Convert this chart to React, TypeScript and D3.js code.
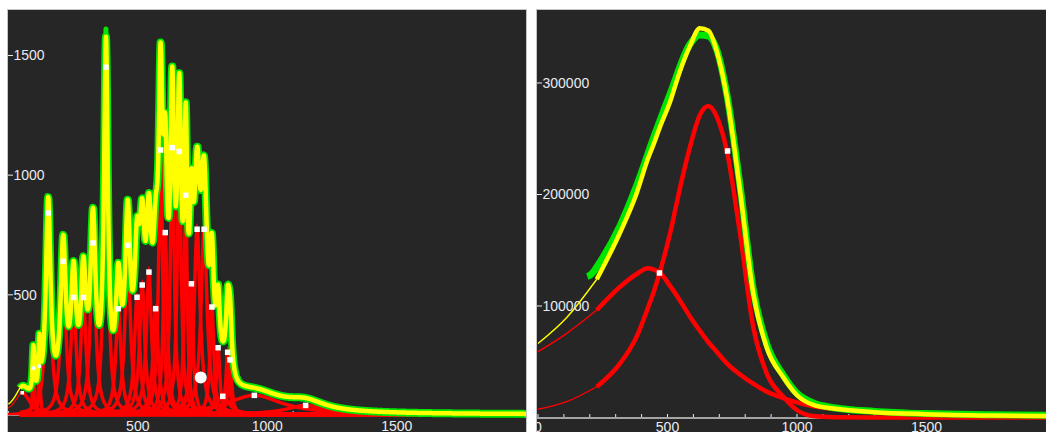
import * as d3 from "d3";

// ---- left panel: fitted peak components (centre, height, half width) ----
const leftCenters = [54, 97, 120, 154, 212, 252, 290, 327, 377, 425, 461, 497, 517, 543, 569, 588, 606, 633, 660, 685, 707, 729, 756, 786, 810, 828, 847, 856, 950, 1148];
const leftHeights = [91, 194, 202, 842, 640, 489, 489, 717, 1451, 442, 707, 490, 541, 595, 442, 1105, 760, 1115, 1099, 916, 546, 774, 774, 449, 279, 76, 260, 228, 80, 38];
const leftWidths = [35, 4, 4, 11, 12, 12, 12, 12, 9, 12, 12, 12, 12, 12, 12, 9, 9, 9, 9, 7, 8, 14, 14, 9, 8, 30, 8, 8, 130, 90];
const leftSmallMarkers = [54, 97, 120];
const leftSelectedX = 743;
const leftSelectedY = 155;
const leftFitStart = 45;
// measured data rising above the fit at the sharpest peak
const leftDataTipX = [377];
const leftDataTipY = [1611];
const leftYTicks = [500, 1000, 1500];
const leftXLabels = [500, 1000, 1500];

// ---- right panel: two components, measured data ----
const rightX = [0, 111, 227, 317, 381, 424, 445, 471, 510, 548, 587, 625, 658, 690, 729, 780, 831, 883, 947, 999, 1063, 1150, 1300, 1500, 1750, 2000];
const rightRed1 = [7350, 14200, 27600, 48600, 72500, 98000, 111400, 130800, 165200, 205600, 242900, 271300, 279400, 269800, 239300, 165200, 81400, 39600, 18700, 6700, 1300, 300, 0, 0, 0, 0];
const rightRed2 = [59000, 75500, 96400, 117300, 128700, 133800, 132800, 129800, 118000, 105000, 90400, 77800, 67500, 59000, 48600, 38600, 30300, 23200, 17400, 13500, 10000, 7500, 4800, 3000, 1800, 1200];
const rightDataX = [190, 200, 212, 227, 317, 381, 445, 510, 587, 625, 658, 690, 729, 780, 831, 883, 947, 999, 1063, 1150, 1300, 1500, 1750, 2000];
const rightDataY = [126500, 127500, 130000, 135000, 172000, 208000, 250000, 290000, 335000, 343000, 342000, 330000, 290000, 208000, 115000, 66000, 38000, 22000, 13000, 8500, 5500, 3500, 2500, 1800];
const rightMarkerX = [469, 732];
const rightMarkerY = [129600, 239000];
const rightFitStart = 227;
const rightYTicks = [100000, 200000, 300000];
const rightXLabels = [0, 500, 1000, 1500];

const BG = "#262626";
const AXIS = "#a4a4a4";
const TEXT = "#e8ebf0";
const RED = "#ff0000";
const YELLOW = "#ffff00";
const GREEN = "#00e600";
const FONT = "'Liberation Sans', Arial, sans-serif";

const LEFT = { x0: 8, x1: 526, top: 10, axisY: 415, labelY: 430.5 };
const RIGHT = { x0: 537, x1: 1055, top: 10, axisY: 418, labelY: 432 };

const xl = d3.scaleLinear().domain([0, 2000]).range([8.3, 526.3]);
const yl = d3.scaleLinear().domain([0, 1690]).range([414.5, 10]);
const xr = d3.scaleLinear().domain([0, 2000]).range([538, 1056]);
const yr = d3.scaleLinear().domain([0, 365000]).range([417.5, 10.5]);

const minorTicks = d3.range(0, 2001, 100);
const xs = d3.range(0, 2001, 1);

const comp = (i: number, x: number) =>
    leftHeights[i] / (1 + ((x - leftCenters[i]) / leftWidths[i]) ** 2);
const total = (x: number) => d3.sum(leftCenters, (_, i) => comp(i, x));

const lineL = d3
    .line<[number, number]>()
    .x((d) => xl(d[0]))
    .y((d) => yl(d[1]));
const lineR = d3
    .line<[number, number]>()
    .x((d) => xr(d[0]))
    .y((d) => yr(d[1]))
    .curve(d3.curveMonotoneX);

const Frame = ({ p, id, x, y, yTicks, xLabels, children }) => (
    <g>
        <defs>
            <clipPath id={id}>
                <rect x={p.x0} y={p.top} width={p.x1 - p.x0} height={432 - p.top} />
            </clipPath>
        </defs>
        <rect x={p.x0 - 0.5} y={p.top - 0.5} width={p.x1 - p.x0 + 1} height={440} fill={BG} stroke="#c4c4c4" strokeWidth={1} />
        <g clipPath={`url(#${id})`}>
            <line x1={p.x0} x2={p.x1} y1={p.axisY} y2={p.axisY} stroke={AXIS} strokeWidth={2} />
            {minorTicks.map((t) => (
                <line key={t} x1={x(t)} x2={x(t)} y1={p.axisY - 4} y2={p.axisY - 1} stroke={TEXT} strokeWidth={1} />
            ))}
            {xLabels.map((t) => (
                <text key={t} x={x(t)} y={p.labelY} textAnchor="middle" fill={TEXT} fontSize={14} fontFamily={FONT}>
                    {t}
                </text>
            ))}
            {children}
            {yTicks.map((t) => (
                <g key={t}>
                    <line x1={p.x0} x2={p.x0 + 5} y1={y(t)} y2={y(t)} stroke={TEXT} strokeWidth={1} />
                    <text x={p.x0 + 5.5} y={y(t)} dy="0.35em" fill={TEXT} fontSize={14} fontFamily={FONT}>
                        {t}
                    </text>
                </g>
            ))}
        </g>
    </g>
);

const App = () => {
    const thinXs = xs.filter((x) => x <= leftFitStart);
    const thickXs = xs.filter((x) => x >= leftFitStart);
    const sumThin = thinXs.map((x) => [x, total(x)] as [number, number]);
    const sumThick = thickXs.map((x) => [x, total(x)] as [number, number]);

    const rIdx = rightX.indexOf(rightFitStart);
    const rSeries = [rightRed1, rightRed2].map((vals) => {
        const pts = rightX.map((x, i) => [x, vals[i]] as [number, number]);
        return { thin: pts.slice(0, rIdx + 1), thick: pts.slice(rIdx) };
    });
    const rSum = rightX.map((x, i) => [x, rightRed1[i] + rightRed2[i]] as [number, number]);
    const rData = rightDataX.map((x, i) => [x, rightDataY[i]] as [number, number]);

    return (
        <svg width={1046} height={432} style={{ position: "absolute", left: 0, top: 0, background: "#fff" }}>
            <Frame p={LEFT} id="clipL" x={xl} y={yl} yTicks={leftYTicks} xLabels={leftXLabels}>
                {leftCenters.map((c, i) => (
                    <g key={c}>
                        <path d={lineL(thinXs.map((x) => [x, comp(i, x)]))} fill="none" stroke={RED} strokeWidth={1.2} />
                        <path d={lineL(thickXs.map((x) => [x, comp(i, x)]))} fill="none" stroke={RED} strokeWidth={3.5} />
                    </g>
                ))}
                <path d={lineL(sumThick)} fill="none" stroke={GREEN} strokeWidth={8} strokeLinejoin="round" />
                {leftDataTipX.map((x, i) => (
                    <line key={x} x1={xl(x)} x2={xl(x)} y1={yl(total(x))} y2={yl(leftDataTipY[i])} stroke={GREEN} strokeWidth={5} strokeLinecap="round" />
                ))}
                <path d={lineL(sumThin)} fill="none" stroke={YELLOW} strokeWidth={1.4} />
                <path d={lineL(sumThick)} fill="none" stroke={YELLOW} strokeWidth={4.5} strokeLinejoin="round" />
                {leftCenters.map((c, i) => {
                    const s = leftSmallMarkers.includes(c) ? 3.5 : 5.5;
                    return (
                        <rect key={c} x={xl(c) - s / 2} y={yl(leftHeights[i]) - s / 2} width={s} height={s} fill="#fff" />
                    );
                })}
                <circle cx={xl(leftSelectedX)} cy={yl(leftSelectedY)} r={6} fill="#fff" />
            </Frame>
            <Frame p={RIGHT} id="clipR" x={xr} y={yr} yTicks={rightYTicks} xLabels={rightXLabels}>
                {rSeries.map((s, i) => (
                    <g key={i}>
                        <path d={lineR(s.thin)} fill="none" stroke={RED} strokeWidth={1.4} />
                        <path d={lineR(s.thick)} fill="none" stroke={RED} strokeWidth={4.5} />
                    </g>
                ))}
                <path d={lineR(rData)} fill="none" stroke={GREEN} strokeWidth={7} strokeLinejoin="round" />
                <path d={lineR(rSum.slice(0, rIdx + 1))} fill="none" stroke={YELLOW} strokeWidth={1.4} />
                <path d={lineR(rSum.slice(rIdx))} fill="none" stroke={YELLOW} strokeWidth={4.5} />
                {rightMarkerX.map((x, i) => (
                    <rect key={x} x={xr(x) - 2.75} y={yr(rightMarkerY[i]) - 2.75} width={5.5} height={5.5} fill="#fff" />
                ))}
            </Frame>
        </svg>
    );
};

export default App;
